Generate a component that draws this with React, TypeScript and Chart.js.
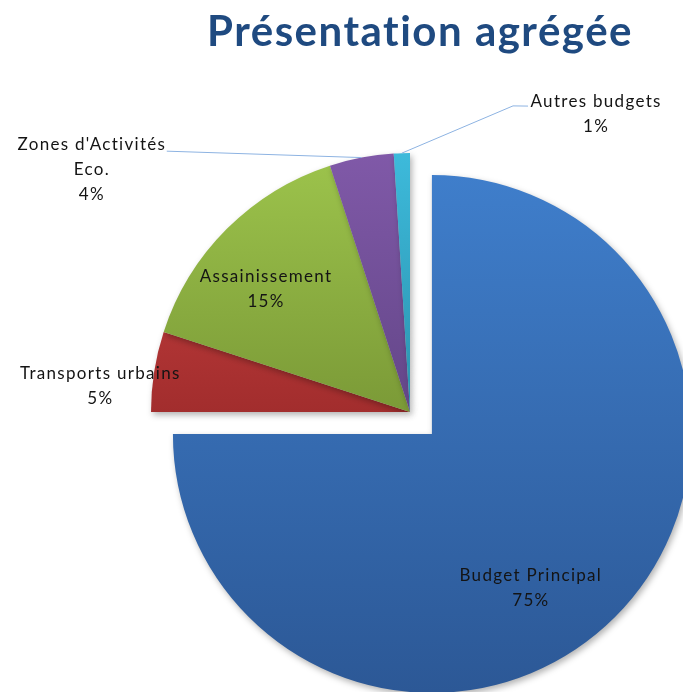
import React, { useEffect, useRef } from "react";
import { Chart, registerables } from "chart.js";

Chart.register(...registerables);

const chartTitle = "Présentation agrégée";
const categories = [
  "Budget Principal",
  "Transports urbains",
  "Assainissement",
  "Zones d'Activités Eco.",
  "Autres budgets",
];
const values = [75, 5, 15, 4, 1];
const labelLines = [
  ["Budget Principal"],
  ["Transports urbains"],
  ["Assainissement"],
  ["Zones d'Activités", "Eco."],
  ["Autres budgets"],
];

const topColors = ["#3F7ECB", "#CF4545", "#9DC44C", "#8059A8", "#3DBADB"];
const bottomColors = ["#2C5896", "#A22D2D", "#7B9A37", "#634688", "#2B92AD"];

// label placement, polar relative to each slice's own centre
// (angle in degrees clockwise from 12 o'clock, distance as a fraction of radius)
const labelLayout: { angle: number; dist: number; leader?: { angle: number; dist: number }[] }[] = [
  { angle: 147.3, dist: 0.707 },
  { angle: 274.8, dist: 1.2 },
  { angle: 310.4, dist: 0.73 },
  { angle: 307.3, dist: 1.544, leader: [{ angle: 317.0, dist: 1.377 }] },
  { angle: 32.0, dist: 1.356, leader: [{ angle: 21.1, dist: 1.266 }, { angle: 18.6, dist: 1.247 }] },
];

const EXPLODE = 31;
const RADIUS = 259;

const explodePlugin = {
  id: "explode",
  afterDatasetsUpdate(chart: any) {
    const meta = chart.getDatasetMeta(0);
    const arc = meta.data[0];
    if (!arc) return;
    const half = (arc.startAngle + arc.endAngle) / 2;
    arc.x += Math.cos(half) * EXPLODE;
    arc.y += Math.sin(half) * EXPLODE;
  },
};

const shadowAndLabels = {
  id: "shadowAndLabels",
  beforeDatasetsDraw(chart: any) {
    const ctx = chart.ctx;
    ctx.save();
    ctx.shadowColor = "rgba(0,0,0,0.30)";
    ctx.shadowBlur = 6;
    ctx.shadowOffsetX = 2;
    ctx.shadowOffsetY = 3;
  },
  afterDatasetsDraw(chart: any) {
    const ctx = chart.ctx;
    ctx.restore();
    const meta = chart.getDatasetMeta(0);
    const total = values.reduce((a, b) => a + b, 0);
    const polar = (arc: any, angle: number, dist: number) => {
      const t = (angle * Math.PI) / 180;
      return {
        x: arc.x + dist * arc.outerRadius * Math.sin(t),
        y: arc.y - dist * arc.outerRadius * Math.cos(t),
      };
    };
    ctx.save();
    meta.data.forEach((arc: any, i: number) => {
      const lay = labelLayout[i];
      if (lay.leader) {
        const half = (arc.startAngle + arc.endAngle) / 2;
        ctx.beginPath();
        ctx.strokeStyle = "#8DB3E2";
        ctx.lineWidth = 1;
        const pts = lay.leader.map((p) => polar(arc, p.angle, p.dist));
        ctx.moveTo(pts[0].x, pts[0].y);
        for (let k = 1; k < pts.length; k++) ctx.lineTo(pts[k].x, pts[k].y);
        ctx.lineTo(arc.x + Math.cos(half) * arc.outerRadius, arc.y + Math.sin(half) * arc.outerRadius);
        ctx.stroke();
      }
      const pct = Math.round((values[i] / total) * 100) + "%";
      const lines = [...labelLines[i], pct];
      const c = polar(arc, lay.angle, lay.dist);
      const lh = 25;
      ctx.font = "17px Lato";
      (ctx as any).letterSpacing = "1.3px";
      ctx.fillStyle = "#141414";
      ctx.textAlign = "center";
      ctx.textBaseline = "middle";
      lines.forEach((ln, k) => {
        ctx.fillText(ln, c.x, c.y + (k - (lines.length - 1) / 2) * lh);
      });
    });
    ctx.restore();
  },
  afterDraw(chart: any) {
    const ctx = chart.ctx;
    const area = chart.chartArea;
    ctx.save();
    ctx.font = "bold 42px Lato";
    (ctx as any).letterSpacing = "1.5px";
    ctx.fillStyle = "#1F4A80";
    ctx.textAlign = "center";
    ctx.textBaseline = "alphabetic";
    ctx.fillText(chartTitle, (area.left + area.right) / 2 + 10, 46);
    ctx.restore();
  },
};

export default function App() {
  const ref = useRef<HTMLCanvasElement>(null);
  useEffect(() => {
    if (!ref.current) return;
    const chart = new Chart(ref.current, {
      type: "pie",
      data: {
        labels: categories,
        datasets: [
          {
            data: values,
            borderWidth: 0,
            hoverOffset: 0,
            backgroundColor: (c: any) => {
              const chart = c.chart;
              const area = chart.chartArea;
              const i = c.dataIndex;
              if (!area || i === undefined) return topColors[i ?? 0];
              const cy = (area.top + area.bottom) / 2;
              const shift = i === 0 ? EXPLODE * Math.SQRT1_2 : 0;
              const y0 = cy + shift - RADIUS;
              const y1 = i === 0 ? cy + shift + RADIUS : cy;
              const g = chart.ctx.createLinearGradient(0, y0, 0, y1);
              g.addColorStop(0, topColors[i]);
              g.addColorStop(1, bottomColors[i]);
              return g;
            },
          },
        ],
      },
      options: {
        animation: false,
        responsive: true,
        maintainAspectRatio: false,
        radius: RADIUS,
        layout: { padding: { left: 137, top: 132, right: 0, bottom: 0 } },
        plugins: {
          legend: { display: false },
          tooltip: { enabled: false },
          title: { display: false },
        },
        events: [],
      } as any,
      plugins: [explodePlugin, shadowAndLabels],
    });
    return () => chart.destroy();
  }, []);
  return (
    <div style={{ position: "absolute", left: 0, top: 0, width: 683, height: 692, background: "#fff" }}>
      <canvas ref={ref} />
    </div>
  );
}
